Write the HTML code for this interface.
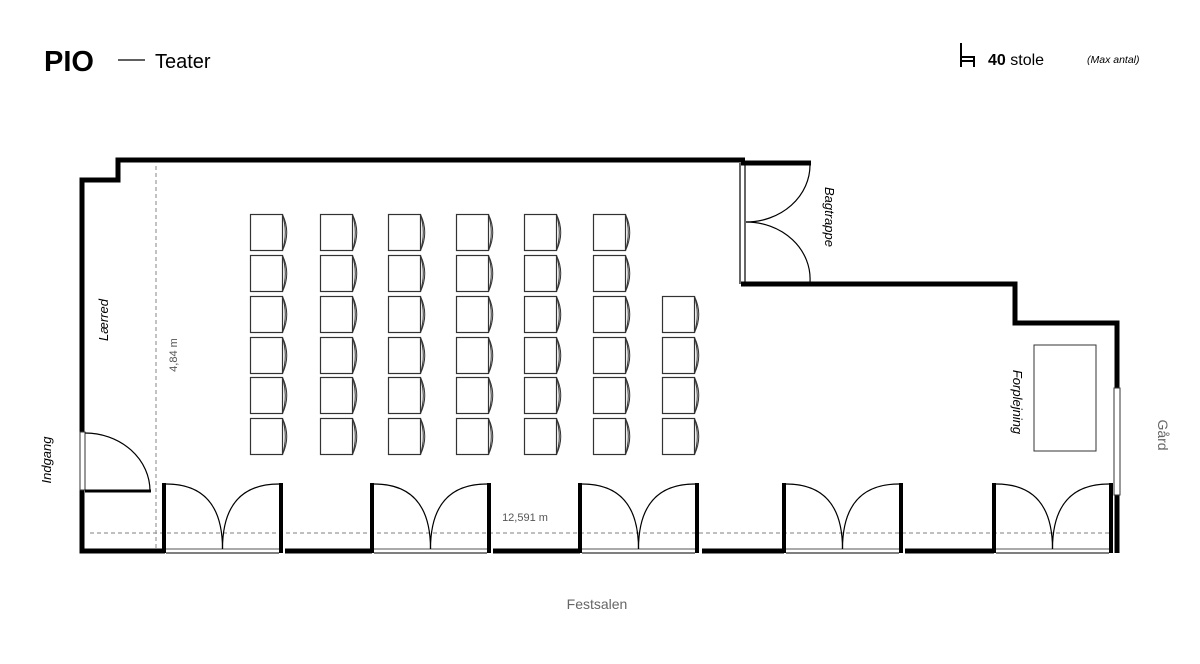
<!DOCTYPE html>
<html><head><meta charset="utf-8"><style>
html,body{margin:0;padding:0;background:#fff;width:1200px;height:664px;overflow:hidden}
svg{display:block}
text{font-family:"Liberation Sans","DejaVu Sans",sans-serif}
</style></head><body>
<svg width="1200" height="664" viewBox="0 0 1200 664" xmlns="http://www.w3.org/2000/svg">
<defs>
<g id="ch">
<rect x="0.5" y="0.5" width="32" height="36" fill="#fff" stroke="#333" stroke-width="1.2"/>
<path d="M32.5 0.5 Q38 18.5 32.5 36.5" fill="none" stroke="#333" stroke-width="1"/>
<path d="M32.5 0.5 Q41 18.5 32.5 36.5" fill="none" stroke="#333" stroke-width="1"/>
</g>
<g id="door">
<rect x="0" y="483" width="4" height="70" fill="#000"/>
<rect x="117" y="483" width="4" height="70" fill="#000"/>
<line x1="4" y1="549" x2="117" y2="549" stroke="#555" stroke-width="1"/>
<line x1="4" y1="553" x2="117" y2="553" stroke="#555" stroke-width="1.5"/>
<path d="M4 484 A57 65 0 0 0 4 484 M4 484 A57 65 0 0 1 60.5 549" fill="none" stroke="none"/>
<path d="M4 484 Q60.5 484 60.5 549" fill="none" stroke="#000" stroke-width="1.2"/>
<path d="M117 484 Q60.5 484 60.5 549" fill="none" stroke="#000" stroke-width="1.2"/>
</g>
</defs>

<!-- header -->
<text x="44" y="71" font-size="29" font-weight="bold" fill="#000">PIO</text>
<line x1="118" y1="60" x2="145" y2="60" stroke="#000" stroke-width="1.3"/>
<text x="155" y="68" font-size="20" fill="#000">Teater</text>
<g stroke="#000" stroke-width="2" fill="none">
<line x1="961" y1="43" x2="961" y2="67"/><line x1="961" y1="57" x2="975" y2="57"/><line x1="974" y1="57" x2="974" y2="67"/><line x1="961" y1="61" x2="975" y2="61"/>
</g>
<text x="988" y="65" font-size="16" fill="#000"><tspan font-weight="bold">40</tspan> stole</text>
<text x="1087" y="63" font-size="10.5" font-style="italic" fill="#000">(Max antal)</text>

<!-- dashed dims -->
<line x1="156" y1="166" x2="156" y2="548" stroke="#999" stroke-width="1.2" stroke-dasharray="4,3"/>
<line x1="90" y1="533" x2="1112" y2="533" stroke="#999" stroke-width="1.2" stroke-dasharray="4,3"/>
<text x="525" y="521" font-size="11" fill="#555" text-anchor="middle">12,591 m</text>
<text transform="translate(177,355) rotate(-90)" font-size="11" fill="#555" text-anchor="middle">4,84 m</text>

<!-- walls -->
<g fill="none" stroke="#000" stroke-width="5" stroke-linejoin="miter">
<polyline points="82,432 82,180 118,180 118,160 745,160"/>
<polyline points="82,490 82,551 165,551"/>
<line x1="741" y1="163" x2="811" y2="163"/>
<polyline points="741,284 1015,284 1015,323 1117,323 1117,390"/>
<line x1="1117" y1="494" x2="1117" y2="553"/>
<line x1="285" y1="551" x2="372" y2="551"/>
<line x1="493" y1="551" x2="580" y2="551"/>
<line x1="702" y1="551" x2="784" y2="551"/>
<line x1="905" y1="551" x2="994" y2="551"/>
</g>
<!-- Bagtrappe door frame -->
<line x1="740" y1="163" x2="740" y2="284" stroke="#000" stroke-width="1.2"/>
<line x1="745" y1="163" x2="745" y2="284" stroke="#000" stroke-width="1.2"/>
<path d="M810 165 A64 57 0 0 1 746 222" fill="none" stroke="#000" stroke-width="1.2"/>
<path d="M810 282 A64 57 0 0 0 746 222" fill="none" stroke="#000" stroke-width="1.2"/>
<!-- Gård window -->
<rect x="1114" y="388" width="6" height="107" fill="#fff" stroke="#333" stroke-width="1"/>
<!-- Indgang -->
<rect x="80" y="432" width="5" height="58" fill="#fff" stroke="#333" stroke-width="1"/>
<line x1="85" y1="491" x2="151" y2="491" stroke="#000" stroke-width="3"/>
<path d="M85 433 A65 58 0 0 1 150 491" fill="none" stroke="#000" stroke-width="1.2"/>

<!-- bottom doors -->
<use href="#door" x="162"/>
<use href="#door" x="370"/>
<use href="#door" x="578"/>
<use href="#door" x="782"/>
<use href="#door" x="992"/>

<!-- Forplejning table -->
<rect x="1034" y="345" width="62" height="106" fill="none" stroke="#333" stroke-width="1"/>

<!-- chairs -->
<g>
<use href="#ch" x="250" y="214"/><use href="#ch" x="320" y="214"/><use href="#ch" x="388" y="214"/><use href="#ch" x="456" y="214"/><use href="#ch" x="524" y="214"/><use href="#ch" x="593" y="214"/>
<use href="#ch" x="250" y="255"/><use href="#ch" x="320" y="255"/><use href="#ch" x="388" y="255"/><use href="#ch" x="456" y="255"/><use href="#ch" x="524" y="255"/><use href="#ch" x="593" y="255"/>
<use href="#ch" x="250" y="296"/><use href="#ch" x="320" y="296"/><use href="#ch" x="388" y="296"/><use href="#ch" x="456" y="296"/><use href="#ch" x="524" y="296"/><use href="#ch" x="593" y="296"/><use href="#ch" x="662" y="296"/>
<use href="#ch" x="250" y="337"/><use href="#ch" x="320" y="337"/><use href="#ch" x="388" y="337"/><use href="#ch" x="456" y="337"/><use href="#ch" x="524" y="337"/><use href="#ch" x="593" y="337"/><use href="#ch" x="662" y="337"/>
<use href="#ch" x="250" y="377"/><use href="#ch" x="320" y="377"/><use href="#ch" x="388" y="377"/><use href="#ch" x="456" y="377"/><use href="#ch" x="524" y="377"/><use href="#ch" x="593" y="377"/><use href="#ch" x="662" y="377"/>
<use href="#ch" x="250" y="418"/><use href="#ch" x="320" y="418"/><use href="#ch" x="388" y="418"/><use href="#ch" x="456" y="418"/><use href="#ch" x="524" y="418"/><use href="#ch" x="593" y="418"/><use href="#ch" x="662" y="418"/>
</g>

<!-- labels -->
<text transform="translate(108,320) rotate(-90)" font-size="13" font-style="italic" fill="#000" text-anchor="middle">Lærred</text>
<text transform="translate(51,460) rotate(-90)" font-size="13" font-style="italic" fill="#000" text-anchor="middle">Indgang</text>
<text transform="translate(825,217) rotate(90)" font-size="13" font-style="italic" fill="#000" text-anchor="middle">Bagtrappe</text>
<text transform="translate(1013,402) rotate(90)" font-size="13" font-style="italic" fill="#000" text-anchor="middle">Forplejning</text>
<text transform="translate(1158,435) rotate(90)" font-size="14" fill="#666" text-anchor="middle">Gård</text>
<text x="597" y="609" font-size="14" fill="#666" text-anchor="middle">Festsalen</text>
</svg>
</body></html>
